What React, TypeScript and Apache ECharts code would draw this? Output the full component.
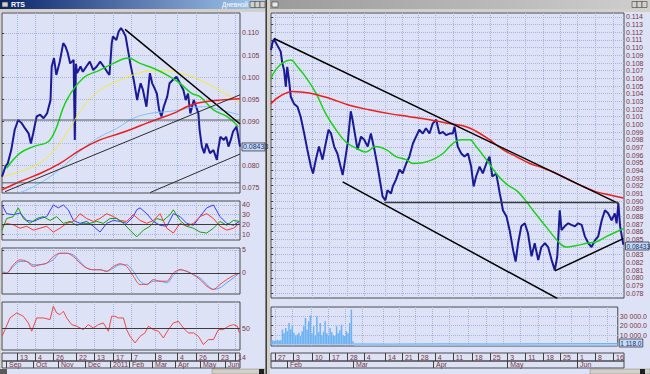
import React, { useEffect, useRef } from 'react';
import * as echarts from 'echarts';

// ---------------- tick positions / labels (x unit = bar index) ----------------
const leftMax = 206;
const rightMax = 100;
const leftDayTicks = [13.0, 28.6, 44.2, 64.1, 79.7, 96.1, 111.7, 132.5, 151.5, 168.0, 187.0, 201.7];
const leftDayLabels = ['13', '4', '26', '22', '13', '17', '7', '8', '4', '26', '23', '14'];
const leftMonthTicks = [3.5, 26.8, 48.5, 71.9, 93.5, 110.0, 129.9, 149.8, 171.4, 193.1];
const leftMonthLabels = ['Sep', 'Oct', 'Nov', 'Dec', '2011', 'Feb', 'Mar', 'Apr', 'May', 'Jun'];
const rightDayTicks = [1.1, 6.2, 11.6, 16.4, 21.5, 26.3, 32.3, 37.1, 41.6, 46.4, 51.5, 56.9, 62.0, 66.9, 72.0, 77.1, 81.9, 86.7, 91.8, 96.9];
const rightDayLabels = ['27', '3', '10', '17', '28', '4', '14', '21', '28', '4', '11', '18', '25', '3', '11', '18', '25', '1', '8', '16'];
const rightMonthTicks = [4.5, 23.2, 45.9, 66.9, 86.7];
const rightMonthLabels = ['Feb', 'Mar', 'Apr', 'May', 'Jun'];

const leftPriceTicks = [0.075, 0.08, 0.085, 0.09, 0.095, 0.1, 0.105, 0.11];
const leftPriceHiddenLabel = 0.085; // covered by the last-price box
const rightPriceTicks = [0.078, 0.079, 0.08, 0.081, 0.082, 0.083, 0.084, 0.085, 0.086, 0.087, 0.088, 0.089, 0.09, 0.091, 0.092, 0.093, 0.094, 0.095, 0.096, 0.097, 0.098, 0.099, 0.1, 0.101, 0.102, 0.103, 0.104, 0.105, 0.106, 0.107, 0.108, 0.109, 0.11, 0.111, 0.112, 0.113, 0.114];
const rightPriceHiddenLabel = 0.084; // covered by the last-price box
const adxTicks = [10, 20, 30, 40];
const macdTicks = [0, 5];
const rsiTicks = [50];
const volTicks = [10000, 20000, 30000];

// ---------------- left window (daily) ----------------
const leftPrice = [
  [0, 0.0775], [3, 0.0798], [5, 0.0805], [8, 0.0835], [11, 0.0881], [14, 0.0903], [17, 0.0896], [20, 0.0884], [23, 0.0873], [25, 0.085],
  [27, 0.0873], [30, 0.0911], [33, 0.0915], [36, 0.0907], [39, 0.0918], [42, 0.0948], [43, 0.1024], [45, 0.1043], [47, 0.1005], [50, 0.1035],
  [53, 0.1077], [55, 0.1069], [57, 0.1054], [59, 0.1031], [62, 0.1039], [63, 0.0858], [64, 0.103], [65, 0.1009], [68, 0.1024], [70, 0.1012],
  [73, 0.1024], [76, 0.1035], [79, 0.1016], [82, 0.1024], [85, 0.1035], [88, 0.1024], [91, 0.1012], [93, 0.1005], [95, 0.1077], [96, 0.1092],
  [99, 0.1084], [101, 0.1103], [103, 0.1111], [105, 0.1103], [107, 0.1092], [109, 0.1062], [111, 0.1031], [114, 0.0994], [117, 0.0948], [118, 0.0963],
  [120, 0.0986], [122, 0.0971], [125, 0.0933], [128, 0.1009], [130, 0.0986], [132, 0.0975], [134, 0.0963], [136, 0.0926], [138, 0.0911], [140, 0.0933],
  [143, 0.0956], [145, 0.0986], [148, 0.0994], [151, 0.1001], [154, 0.0986], [157, 0.0971], [159, 0.0948], [161, 0.0963], [163, 0.0918], [166, 0.0948],
  [168, 0.0933], [170, 0.0918], [171, 0.0881], [173, 0.0843], [175, 0.0828], [177, 0.085], [180, 0.0828], [183, 0.0835], [186, 0.0813], [187, 0.0835],
  [189, 0.0865], [192, 0.0858], [194, 0.0865], [196, 0.0843], [198, 0.0858], [200, 0.0877], [203, 0.0888], [204, 0.0873], [206, 0.0843],
];
const leftMaGreen = [[4, 0.0794], [15.6, 0.0828], [27.1, 0.0843], [41.6, 0.0858], [56, 0.0948], [70.4, 0.0998], [84.8, 0.1016], [96.4, 0.1031], [109.4, 0.1043], [119.5, 0.1031], [131, 0.102], [142.6, 0.1005], [154.1, 0.0986], [164.2, 0.0963], [171.4, 0.0956], [183, 0.0926], [194.5, 0.0911], [204.6, 0.0888]];
const leftMaYellow = [[1.2, 0.0775], [27.1, 0.0798], [41.6, 0.0824], [56, 0.0873], [70.4, 0.0933], [84.8, 0.0971], [99.3, 0.099], [113.7, 0.1005], [131, 0.1015], [142.6, 0.1015], [154.1, 0.1009], [165.7, 0.1], [177.2, 0.0986], [188.7, 0.0969], [200.3, 0.0952], [205.5, 0.0941]];
const leftMaBlue = [[15.6, 0.0739], [27.1, 0.0752], [41.6, 0.0775], [56, 0.0805], [70.4, 0.0839], [84.8, 0.0865], [99.3, 0.0884], [113.7, 0.0907], [128.2, 0.0918], [142.6, 0.0922], [154.1, 0.0926], [165.7, 0.0932], [177.2, 0.0933], [188.7, 0.0926], [205.5, 0.0915]];
const leftMaRed = [[0, 0.0745], [15.6, 0.0764], [32.9, 0.0782], [50.2, 0.0805], [67.5, 0.0835], [84.8, 0.0858], [102.2, 0.0873], [113.7, 0.0884], [125.3, 0.0896], [136.8, 0.0907], [148.3, 0.0918], [159.9, 0.0933], [168.5, 0.0941], [177.2, 0.0945], [188.7, 0.0948], [206, 0.0951]];
const leftTrend = [
  [[106.5, 0.1108], [206, 0.0894]],
  [[2.6, 0.0741], [206, 0.096]],
  [[128.2, 0.0739], [206, 0.0826]],
];
const leftLevels = [0.0903, 0.0761];
const lastPrice = 0.08433;

const subIdx = [0, 4.0, 9.8, 15.6, 21.4, 27.1, 32.9, 38.7, 44.4, 50.2, 56.0, 61.8, 67.5, 73.3, 79.1, 84.8, 90.6, 96.4, 102.2, 107.9, 113.7, 119.5, 125.3, 131.0, 136.8, 142.6, 148.3, 154.1, 159.9, 165.7, 171.4, 177.2, 183.0, 188.7, 194.5, 200.3, 205.5];
const adxBlue = [[0, 40], [4, 31], [9.8, 30], [15.6, 31.7], [21.4, 24], [27.1, 23], [32.9, 26], [38.7, 28], [44.4, 40], [48.8, 37], [53.1, 40], [57.4, 35], [61.8, 24], [67.5, 21], [73.3, 23], [79.1, 18], [84.8, 12], [90.6, 21], [96.4, 24], [102.2, 23], [107.9, 21], [113.7, 28], [116.6, 35], [119.5, 37], [125.3, 31], [131, 23], [136.8, 19], [142.6, 18], [148.3, 31], [154.1, 28], [159.9, 21], [165.7, 19], [171.4, 28], [177.2, 37], [183, 40], [188.7, 28], [194.5, 21], [200.3, 19], [205.5, 23]];
const adxRed = [18, 21, 19.5, 16, 18, 14, 16, 18, 12, 16, 21, 23, 31, 26, 23, 26, 31, 28, 24, 23, 30, 24, 21, 24, 31, 16, 11, 21, 18, 21, 28, 31, 26, 18, 14, 16, 21];
const adxGreen = [[0, 14], [4, 26], [9.8, 28], [14.1, 37], [18.5, 26], [24.2, 21], [30, 26], [35.8, 28], [41.6, 24], [47.3, 28], [53.1, 21], [58.9, 23], [64.6, 19], [70.4, 21], [76.2, 21], [82, 23], [87.7, 21], [93.5, 26], [99.3, 26], [105.1, 21], [110.8, 14], [116.6, 7], [122.4, 14], [128.1, 18], [133.9, 26], [139.7, 24], [145.5, 30], [148.3, 35], [154.1, 24], [159.9, 18], [165.7, 16], [171.4, 12], [177.2, 11], [183, 16], [188.7, 23], [194.5, 19], [200.3, 24], [205.5, 23]];
const macdRed = [0, 0, 1.79, 2.86, 2.5, 1.43, 1.79, 2.14, 3.57, 4.29, 4.29, 3.57, 2.14, 1.07, 0.71, 0.71, 0.36, 1.43, 2.0, 1.43, -0.71, -2.5, -2.5, -1.43, -1.79, -1.79, 0, 0.71, 0.36, -0.36, -1.43, -2.86, -3.57, -2.5, -1.43, -0.57, 0];
const macdBlue = [0.36, 0, 1.43, 2.5, 2.5, 1.79, 1.79, 2.14, 2.86, 4.29, 4.29, 3.93, 2.5, 1.07, 0.71, 0.71, 0.36, 1.07, 1.79, 1.79, 0.36, -1.79, -2.5, -1.79, -1.79, -2.14, -0.57, 0.71, 0.36, -0.36, -1.07, -2.5, -3.57, -3.21, -2.14, -1.07, 0];
const rsi = [[0, 41.7], [2.6, 48.6], [6.9, 60.7], [12.7, 65.9], [18.5, 62.4], [22.8, 55.5], [25.7, 46.9], [30, 60.7], [35.8, 60.7], [41.6, 59], [44.4, 72.8], [47.3, 65.9], [50.2, 64.1], [53.1, 67.6], [56, 60.7], [60.3, 53.8], [64.6, 52.1], [70.4, 48.6], [74.7, 53.8], [79.1, 50.3], [83.4, 53.8], [87.7, 55.5], [92.1, 46.9], [94.9, 62.4], [97.8, 62.4], [100.7, 60.7], [105.1, 60.7], [107.9, 48.6], [110.8, 41.7], [115.2, 34.8], [119.5, 41.7], [123.8, 45.2], [126.7, 52.1], [131, 48.6], [135.4, 46.9], [139.7, 40], [144, 48.6], [148.3, 55.5], [152.7, 57.2], [157, 50.3], [161.3, 45.2], [165.7, 45.2], [170, 41.7], [174.3, 33.1], [178.6, 38.3], [183, 38.3], [187.3, 48.6], [191.6, 48.6], [196, 52.1], [200.3, 53.8], [203.7, 52.1], [205.5, 45.2]];

// ---------------- right window (hourly) ----------------
const rightPrice = [
  [0, 0.1097], [0.4, 0.1106], [0.85, 0.1111], [1.8, 0.1103], [2.75, 0.1095], [3.2, 0.108], [3.7, 0.1071], [4.2, 0.1049], [4.6, 0.1075], [5.1, 0.1058],
  [5.6, 0.1036], [6.5, 0.1027], [7.5, 0.1023], [8.4, 0.101], [9.4, 0.0988], [10.3, 0.0967], [11.3, 0.0945], [11.9, 0.0936], [12.7, 0.0954], [13.6, 0.0971],
  [14.6, 0.0954], [15.5, 0.0975], [16.3, 0.0993], [17.0, 0.0988], [17.9, 0.0971], [18.8, 0.0962], [19.5, 0.0949], [20.3, 0.0934], [20.7, 0.0945], [21.7, 0.0975],
  [22.6, 0.1017], [23.1, 0.1006], [23.9, 0.0984], [24.5, 0.0967], [25.5, 0.0984], [26.4, 0.098], [27.4, 0.0971], [28.3, 0.0988], [29.3, 0.0967], [30.2, 0.0945],
  [31.0, 0.0923], [31.6, 0.0906], [32.4, 0.0901], [33.0, 0.0914], [34.0, 0.091], [34.5, 0.0919], [35.4, 0.0928], [36.4, 0.0941], [37.3, 0.0936], [38.3, 0.0949],
  [39.2, 0.0958], [40.2, 0.0975], [41.1, 0.0984], [42.0, 0.0993], [43.0, 0.0988], [43.9, 0.0995], [44.9, 0.0988], [45.8, 0.1001], [46.8, 0.1006], [47.7, 0.0988],
  [48.7, 0.099], [49.6, 0.0986], [50.6, 0.0988], [51.5, 0.0988], [52.0, 0.0997], [52.9, 0.0971], [53.9, 0.0962], [54.8, 0.0958], [55.8, 0.0962], [56.7, 0.0945],
  [57.4, 0.0919], [58.1, 0.0932], [59.1, 0.0945], [60.0, 0.0936], [61.0, 0.0949], [61.9, 0.0958], [62.7, 0.0932], [63.8, 0.0936], [64.8, 0.091], [65.2, 0.0901],
  [65.7, 0.0888], [66.7, 0.088], [67.6, 0.0862], [68.6, 0.0836], [69.3, 0.0821], [70.0, 0.0845], [70.9, 0.0867], [71.9, 0.0871], [72.8, 0.0858], [73.8, 0.0828],
  [74.7, 0.0845], [75.7, 0.0823], [76.6, 0.084], [77.6, 0.0845], [78.5, 0.084], [79.5, 0.0823], [80.4, 0.081], [81.1, 0.0828], [81.8, 0.0888], [82.3, 0.0862],
  [83.2, 0.0867], [84.2, 0.0871], [85.1, 0.0869], [86.1, 0.0867], [87.0, 0.0871], [88.0, 0.0869], [88.9, 0.0854], [89.9, 0.0845], [90.8, 0.084], [91.8, 0.0849],
  [92.7, 0.0854], [93.7, 0.0875], [94.6, 0.0888], [95.5, 0.0884], [96.5, 0.0875], [97.4, 0.0884], [97.9, 0.0871], [98.4, 0.0897], [98.9, 0.0867], [99.8, 0.0843],
];
const rightMaGreen = [[0, 0.106], [1.3, 0.1071], [3.2, 0.108], [5.6, 0.1084], [7.5, 0.1075], [9.8, 0.1062], [12.7, 0.1041], [15.5, 0.1014], [18.4, 0.0993], [21.2, 0.0977], [24.1, 0.0969], [26.9, 0.0964], [29.7, 0.0971], [32.6, 0.0967], [35.4, 0.0958], [38.3, 0.0954], [40.2, 0.0949], [43, 0.095], [45.8, 0.0954], [48.7, 0.0962], [51.5, 0.0975], [53.9, 0.098], [56.3, 0.098], [58.1, 0.0971], [61, 0.0954], [63.8, 0.0936], [66.7, 0.0922], [70, 0.0912], [74.2, 0.0888], [78, 0.0866], [81.8, 0.0845], [83.7, 0.084], [86.6, 0.0842], [89.4, 0.0845], [92.2, 0.0847], [95.1, 0.0854], [97.9, 0.086], [99.8, 0.0864]];
const rightMaRed = [[0, 0.1027], [2.3, 0.1036], [6.1, 0.1043], [10.8, 0.1041], [16.5, 0.1034], [22.2, 0.1025], [27.8, 0.1019], [33.5, 0.1014], [39.2, 0.101], [44.9, 0.1006], [50.6, 0.1001], [55.3, 0.0997], [58.1, 0.0991], [61.9, 0.098], [65.7, 0.0967], [69.5, 0.0958], [73.3, 0.0949], [77.1, 0.0943], [80.9, 0.0936], [84.7, 0.0927], [88.4, 0.0919], [92.2, 0.0912], [96, 0.0908], [99.8, 0.0904]];
const rightTrend = [
  [[0.85, 0.1112], [98.4, 0.0897]],
  [[20.3, 0.0925], [81.1, 0.0773]],
  [[32.1, 0.0898], [98.4, 0.0898]],
  [[80.4, 0.0809], [99.8, 0.0851]],
];
const volumeBars = [4000, 4500, 3800, 4200, 5000, 4300, 4600, 15800, 12000, 17500, 14000, 22800, 15800, 19300, 12300, 8800, 10500, 12300, 9000, 14000, 19300, 28000, 15800, 24500, 30500, 12000, 19300, 9500, 29800, 13000, 22800, 10000, 13500, 24500, 12000, 9000, 17500, 13000, 10000, 9000, 19300, 12000, 15000, 21000, 10000, 9000, 14000, 12000, 22800, 36800, 3500];
const volumeBarStep = 0.473;
const volumeLow = [[23.9, 700], [35, 600], [50, 800], [65, 700], [80, 900], [100, 1118]];
const lastVolume = 1118;

// ---------------- styles ----------------
const BG = '#dde2f6';
const FRAME = '#d4d0c8';
const AXIS_TXT = '#7a3446';
const GRID_LINE = '#a7b4de';
const FONT = "'Liberation Sans Narrow', 'Liberation Sans', Arial, sans-serif";

const grids = [
  { left: 2, top: 13, width: 238, height: 180 },
  { left: 2, top: 201, width: 238, height: 39 },
  { left: 2, top: 248, width: 238, height: 46 },
  { left: 2, top: 302, width: 238, height: 48 },
  { left: 2, top: 353, width: 238, height: 8 },
  { left: 2, top: 361, width: 238, height: 7 },
  { left: 271, top: 13, width: 353, height: 285 },
  { left: 271, top: 307, width: 353, height: 39 },
  { left: 271, top: 353, width: 353, height: 8 },
  { left: 271, top: 361, width: 353, height: 7 },
].map((g) => ({ ...g, show: true, borderColor: '#4a4a4a', borderWidth: 1, backgroundColor: 'transparent', containLabel: false }));

function xHidden(gridIndex: number, max: number, ticks: number[]) {
  return {
    type: 'value', gridIndex, min: 0, max,
    axisLine: { show: false }, axisLabel: { show: false },
    axisTick: { show: false, customValues: ticks },
    splitLine: { show: true, lineStyle: { color: GRID_LINE, type: 'dotted', width: 1 } },
  };
}
function xDates(gridIndex: number, max: number, ticks: number[], labels: string[], h: number) {
  return {
    type: 'value', gridIndex, min: 0, max,
    axisLine: { show: false },
    axisTick: { show: true, inside: true, length: h, customValues: ticks, lineStyle: { color: '#404040', width: 1 } },
    axisLabel: {
      show: true, inside: true, customValues: ticks, margin: 0, align: 'left', padding: [0, 0, 0, 3],
      fontSize: 7, fontFamily: FONT, color: AXIS_TXT,
      formatter: (v: number) => {
        const i = ticks.findIndex((t) => Math.abs(t - v) < 1e-6);
        return i >= 0 ? labels[i] : '';
      },
    },
    splitLine: { show: false },
  };
}
function yRight(gridIndex: number, min: number, max: number, ticks: number[], fmt: (v: number) => string, labelTicks: number[] = ticks) {
  return {
    type: 'value', gridIndex, position: 'right', min, max,
    axisLine: { show: false },
    axisTick: { show: true, length: 2, customValues: ticks, lineStyle: { color: '#404040' } },
    axisLabel: { show: true, customValues: labelTicks, margin: 2, fontSize: 7, fontFamily: FONT, color: AXIS_TXT, formatter: fmt },
    splitLine: { show: true, lineStyle: { color: GRID_LINE, type: 'dotted', width: 1 } },
  };
}
function yHidden(gridIndex: number) {
  return { type: 'value', gridIndex, min: 0, max: 1, show: false, splitLine: { show: false } };
}
function line(ai: number, data: any[], color: string, width: number, smooth: number | boolean = false, z = 2) {
  return {
    type: 'line', xAxisIndex: ai, yAxisIndex: ai, data, symbol: 'none', showSymbol: false, smooth,
    lineStyle: { color, width }, itemStyle: { color }, silent: true, z,
  };
}
function refLine(value: number) {
  return {
    silent: true, symbol: 'none', label: { show: false },
    lineStyle: { color: '#3c3c3c', width: 1, type: 'solid' },
    data: [{ yAxis: value }],
  };
}
const zip = (xs: number[], ys: number[]) => xs.map((x, i) => [x, ys[i]]);
const price3 = (v: number) => v.toFixed(3);

const option: any = {
  animation: false,
  backgroundColor: BG,
  textStyle: { fontFamily: FONT },
  grid: grids,
  xAxis: [
    xHidden(0, leftMax, leftDayTicks),
    xHidden(1, leftMax, leftDayTicks),
    xHidden(2, leftMax, leftDayTicks),
    xHidden(3, leftMax, leftDayTicks),
    xDates(4, leftMax, leftDayTicks, leftDayLabels, 8),
    xDates(5, leftMax, leftMonthTicks, leftMonthLabels, 7),
    xHidden(6, rightMax, rightDayTicks),
    xHidden(7, rightMax, rightDayTicks),
    xDates(8, rightMax, rightDayTicks, rightDayLabels, 8),
    xDates(9, rightMax, rightMonthTicks, rightMonthLabels, 7),
  ],
  yAxis: [
    yRight(0, 0.0738, 0.1145, leftPriceTicks, price3, leftPriceTicks.filter((t) => t !== leftPriceHiddenLabel)),
    yRight(1, 3.8, 44.1, adxTicks, (v) => String(v)),
    yRight(2, -4.57, 5.43, macdTicks, (v) => String(v)),
    yRight(3, 27.5, 77.2, rsiTicks, (v) => String(v)),
    yHidden(4),
    yHidden(5),
    yRight(6, 0.07736, 0.11452, rightPriceTicks, price3, rightPriceTicks.filter((t) => t !== rightPriceHiddenLabel)),
    yRight(7, -1500, 39500, volTicks, (v) => `${v / 1000} 000.0`),
    yHidden(8),
    yHidden(9),
  ],
  series: [
    // left main
    line(0, leftPrice, '#1a1a96', 2, false, 2),
    line(0, leftMaBlue, '#7ec0f8', 1, 0.4, 3),
    line(0, leftMaYellow, '#f2ec3a', 1, 0.4, 3),
    line(0, leftMaGreen, '#19d219', 1.5, 0.4, 3),
    line(0, leftMaRed, '#ee1c1c', 1.5, 0.4, 3),
    ...leftTrend.map((seg, i) => line(0, seg, i === 0 ? '#000000' : '#2c2c2c', i === 0 ? 1.5 : 1, false, 5)),
    ...leftLevels.map((lv) => line(0, [[0, lv], [leftMax, lv]], '#5a5a5a', 1, false, 4)),
    // ADX
    { ...line(1, adxBlue, '#3a3aff', 1), markLine: refLine(20) },
    line(1, zip(subIdx, adxRed), '#ff3434', 1),
    line(1, adxGreen, '#14a014', 1),
    // MACD
    { ...line(2, zip(subIdx, macdBlue), '#5aa0ff', 1, 0.3), markLine: refLine(0) },
    line(2, zip(subIdx, macdRed), '#f04848', 1, 0.3),
    // RSI
    { ...line(3, rsi, '#f04848', 1), markLine: refLine(50) },
    // right main
    line(6, rightPrice, '#1a1a96', 2, false, 2),
    line(6, rightMaGreen, '#19d219', 1.5, 0.4, 3),
    line(6, rightMaRed, '#ee1c1c', 1.5, 0.4, 3),
    ...rightTrend.map((seg, i) => line(6, seg, i === 2 ? '#3a3a3a' : '#000000', 1.5, false, 5)),
    // volume
    {
      type: 'bar', xAxisIndex: 7, yAxisIndex: 7, barWidth: 1.5, silent: true,
      data: volumeBars.map((v, i) => [i * volumeBarStep, v]),
      itemStyle: { color: '#6cb2f2' },
    },
    {
      ...line(7, volumeLow, '#6cb2f2', 1),
      areaStyle: { color: '#9ccaf6', origin: 'start' },
    },
  ],
};

function chrome(): any[] {
  const g: any[] = [];
  const font = (s: number, b = false) => `${b ? 'bold ' : ''}${s}px ${FONT}`;
  // left title bar
  g.push({ type: 'rect', shape: { x: 0, y: 0, width: 265, height: 9 }, style: { fill: new echarts.graphic.LinearGradient(0, 0, 1, 0, [{ offset: 0, color: '#0a246a' }, { offset: 1, color: '#a6caf0' }]) }, z: 50 });
  g.push({ type: 'rect', shape: { x: 2, y: 2, width: 6, height: 5 }, style: { fill: '#d4d0c8', stroke: '#303030', lineWidth: 0.6 }, z: 51 });
  g.push({ type: 'text', x: 11, y: 1, style: { text: 'RTS', fill: '#ffffff', font: font(7, true), verticalAlign: 'top' }, z: 51 });
  g.push({ type: 'text', x: 248, y: 1, style: { text: 'Дневной', fill: '#ffffff', font: font(6.5), align: 'right', verticalAlign: 'top' }, z: 51 });
  [250, 255, 260].forEach((x) => g.push({ type: 'rect', shape: { x, y: 1.5, width: 5, height: 6 }, style: { fill: '#d4d0c8', stroke: '#404040', lineWidth: 0.6 }, z: 51 }));
  g.push({ type: 'rect', shape: { x: 0, y: 9, width: 265, height: 3 }, style: { fill: FRAME }, z: 50 });
  g.push({ type: 'rect', shape: { x: 0, y: 9, width: 1, height: 365 }, style: { fill: FRAME }, z: 50 });
  // separator between windows
  g.push({ type: 'rect', shape: { x: 265, y: 0, width: 1, height: 374 }, style: { fill: '#808080' }, z: 50 });
  g.push({ type: 'rect', shape: { x: 266, y: 0, width: 1, height: 374 }, style: { fill: '#404040' }, z: 50 });
  g.push({ type: 'rect', shape: { x: 267, y: 0, width: 3, height: 374 }, style: { fill: FRAME }, z: 50 });
  // right title bar (inactive)
  g.push({ type: 'rect', shape: { x: 270, y: 0, width: 380, height: 9 }, style: { fill: new echarts.graphic.LinearGradient(0, 0, 1, 0, [{ offset: 0, color: '#9a9a9a' }, { offset: 1, color: '#cfcfcf' }]) }, z: 50 });
  g.push({ type: 'rect', shape: { x: 272, y: 2, width: 6, height: 5 }, style: { fill: '#e8e8e8', stroke: '#404040', lineWidth: 0.6 }, z: 51 });
  [632, 637, 642].forEach((x) => g.push({ type: 'rect', shape: { x, y: 1.5, width: 5, height: 6 }, style: { fill: '#d4d0c8', stroke: '#404040', lineWidth: 0.6 }, z: 51 }));
  g.push({ type: 'rect', shape: { x: 270, y: 9, width: 380, height: 3 }, style: { fill: FRAME }, z: 50 });
  // bottom scroll bars
  g.push({ type: 'rect', shape: { x: 0, y: 369, width: 7, height: 5 }, style: { fill: '#5a5a5a' }, z: 50 });
  g.push({ type: 'rect', shape: { x: 212, y: 369, width: 53, height: 5 }, style: { fill: FRAME, stroke: '#808080', lineWidth: 0.5 }, z: 50 });
  g.push({ type: 'rect', shape: { x: 259, y: 369, width: 5, height: 5 }, style: { fill: '#202020' }, z: 51 });
  g.push({ type: 'rect', shape: { x: 590, y: 369, width: 60, height: 5 }, style: { fill: FRAME, stroke: '#808080', lineWidth: 0.5 }, z: 50 });
  g.push({ type: 'rect', shape: { x: 640, y: 369, width: 5, height: 5 }, style: { fill: '#202020' }, z: 51 });
  return g;
}

function valueBox(x: number, y: number, w: number, text: string, size = 7): any[] {
  return [
    { type: 'rect', shape: { x, y: y - 3.5, width: w, height: 8 }, style: { fill: '#c4dafa', stroke: '#3a3a3a', lineWidth: 0.8 }, z: 60 },
    { type: 'text', x: x + 1, y: y + 0.5, style: { text, fill: '#20306a', font: `${size}px ${FONT}`, verticalAlign: 'middle' }, z: 61 },
  ];
}

export default function App() {
  const ref = useRef<HTMLDivElement>(null);
  useEffect(() => {
    if (!ref.current) return;
    const chart = echarts.init(ref.current, null, { renderer: 'svg', width: 650, height: 374 });
    chart.setOption(option);
    const pl = chart.convertToPixel({ gridIndex: 0 }, [leftMax, lastPrice]) as number[];
    const pr = chart.convertToPixel({ gridIndex: 6 }, [rightMax, lastPrice]) as number[];
    const pv = chart.convertToPixel({ gridIndex: 7 }, [rightMax, lastVolume]) as number[];
    chart.setOption({
      graphic: [
        ...chrome(),
        ...valueBox(pl[0] + 2, pl[1], 23, lastPrice.toFixed(5)),
        ...valueBox(pr[0] + 1.5, pr[1] + 1, 23.5, lastPrice.toFixed(5), 6.5),
        ...valueBox(pv[0] + 1.5, pv[1] - 1, 23.5, '1 118.0', 6.5),
      ],
    });
    return () => chart.dispose();
  }, []);
  return <div ref={ref} style={{ position: 'absolute', left: 0, top: 0, width: 650, height: 374 }} />;
}
